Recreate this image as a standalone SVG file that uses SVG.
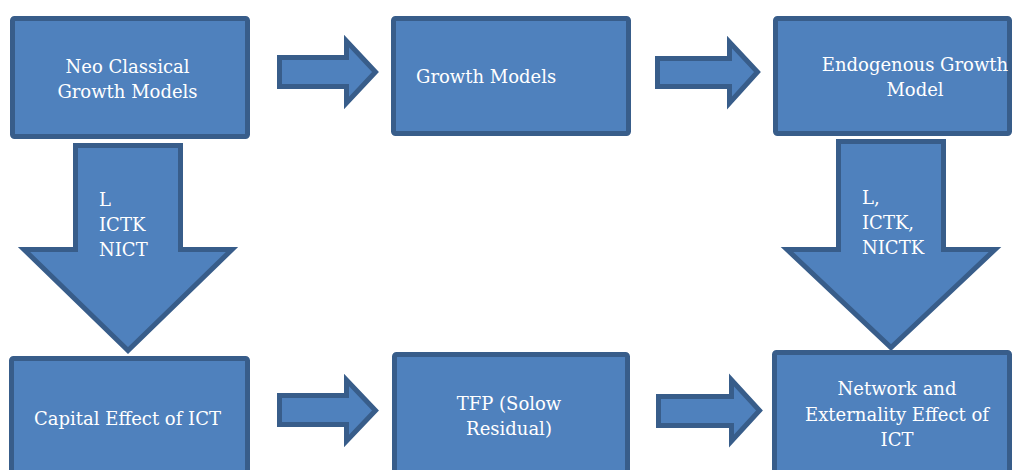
<svg xmlns="http://www.w3.org/2000/svg" width="1014" height="470" viewBox="0 0 1014 470">
<style>
.box{fill:#4F81BD;stroke:#385D8A;stroke-width:5;stroke-linejoin:round}
.arr{fill:#4F81BD;stroke:#385D8A;stroke-width:5;stroke-linejoin:miter;stroke-miterlimit:10}
text{font-family:"DejaVu Serif","Liberation Serif",serif;font-size:18px;fill:#FFFFFF}
.c{text-anchor:middle}
</style>
<rect width="1014" height="470" fill="#FFFFFF"/>
<g id="connectors">
<path class="arr" d="M279.5,57.5 H346.5 V41 L375.5,72 L346.5,103 V86.5 H279.5 Z"/>
<path class="arr" d="M657.5,58.5 H729.5 V42 L757.5,72 L729.5,103 V86.5 H657.5 Z"/>
<path class="arr" d="M279.5,395.5 H346.5 V380 L375.5,410.5 L346.5,441 V424.5 H279.5 Z"/>
<path class="arr" d="M658.5,396.5 H731.5 V380 L759.5,410.5 L731.5,441 V425.5 H658.5 Z"/>
<g id="arrow-down-left">
<path class="arr" d="M75.5,145.5 H180.5 V249.5 H232 L128,350.5 L24,249.5 H75.5 Z"/>
<text x="99" y="206">L</text>
<text x="99" y="231">ICTK</text>
<text x="99" y="256">NICT</text>
</g>
<g id="arrow-down-right">
<path class="arr" d="M838.5,141.5 H943.5 V249.5 H995 L891,347.5 L787,249.5 H838.5 Z"/>
<text x="862" y="204">L,</text>
<text x="862" y="229">ICTK,</text>
<text x="862" y="254">NICTK</text>
</g>
</g>
<g id="neo-classical">
<rect class="box" x="12.5" y="18.5" width="235" height="118" rx="2"/>
<text class="c" x="127.5" y="73">Neo Classical</text>
<text class="c" x="127.5" y="98">Growth Models</text>
</g>
<g id="growth-models">
<rect class="box" x="393.5" y="18.5" width="235" height="115" rx="2"/>
<text x="416" y="83">Growth Models</text>
</g>
<g id="endogenous">
<rect class="box" x="775.5" y="18.5" width="234" height="115" rx="2"/>
<text class="c" x="915" y="71">Endogenous Growth</text>
<text class="c" x="915" y="96">Model</text>
</g>
<g id="capital-effect">
<rect class="box" x="11.5" y="358.5" width="236" height="125" rx="2"/>
<text class="c" x="127.5" y="425">Capital Effect of ICT</text>
</g>
<g id="tfp">
<rect class="box" x="394.5" y="354.5" width="233" height="125" rx="2"/>
<text class="c" x="509" y="410">TFP (Solow</text>
<text class="c" x="509" y="435">Residual)</text>
</g>
<g id="network">
<rect class="box" x="774.5" y="352.5" width="235" height="125" rx="2"/>
<text class="c" x="897" y="395">Network and</text>
<text class="c" x="897" y="421">Externality Effect of</text>
<text class="c" x="897" y="446">ICT</text>
</g>
</svg>
